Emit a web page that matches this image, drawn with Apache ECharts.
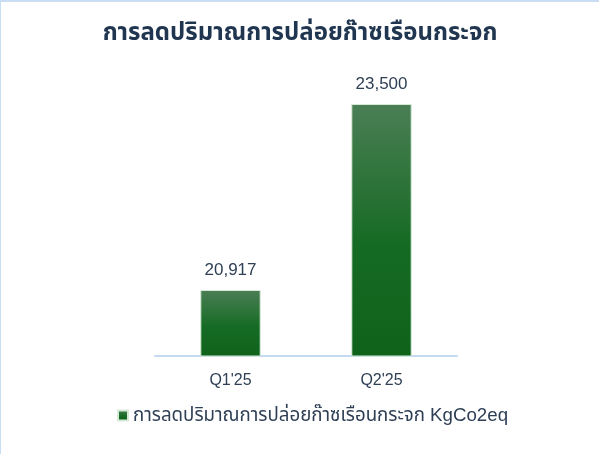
<!DOCTYPE html>
<html>
<head>
<meta charset="utf-8">
<script src="https://cdn.jsdelivr.net/npm/echarts@6/dist/echarts.min.js"></script>
<style>
  html, body { margin: 0; padding: 0; background: #ffffff; }
  #chart {
    width: 599px; height: 454px; box-sizing: border-box;
    border-top: 2px solid #c9def2; border-left: 1px solid #c9def2;
  }
</style>
</head>
<body>
<div id="chart"></div>
<script>
const titleText = 'การลดปริมาณการปล่อยก๊าซเรือนกระจก';
const seriesName = 'การลดปริมาณการปล่อยก๊าซเรือนกระจก KgCo2eq';
const categories = ["Q1'25", "Q2'25"];
const values = [20917, 23500];

const chart = echarts.init(document.getElementById('chart'), null, { renderer: 'canvas' });
const font = '"Liberation Sans", "Noto Sans", "Noto Sans Thai", sans-serif';

chart.setOption({
  animation: false,
  title: {
    text: titleText,
    left: 'center',
    top: 14,
    textStyle: { fontFamily: font, fontSize: 24, fontWeight: 'bold', color: '#1f3550' }
  },
  legend: {
    bottom: 24,
    left: 111,
    itemWidth: 10,
    itemHeight: 10,
    itemGap: 5,
    icon: 'rect',
    textStyle: { fontFamily: font, fontSize: 18.7, color: '#2e3f55' },
    data: [seriesName]
  },
  grid: { left: 154, right: 142, top: 66, bottom: 98 },
  xAxis: {
    type: 'category',
    data: categories,
    axisLine: { lineStyle: { color: '#c3daf0', width: 2 } },
    axisTick: { show: false },
    axisLabel: { fontFamily: font, fontSize: 16, color: '#2e3f55', margin: 17 }
  },
  yAxis: {
    type: 'value',
    min: 20000,
    max: 24000,
    show: false
  },
  series: [{
    name: seriesName,
    type: 'bar',
    data: values,
    barWidth: '40%',
    itemStyle: {
      color: new echarts.graphic.LinearGradient(0, 0, 0, 1, [
        { offset: 0, color: '#4b7e55' },
        { offset: 0.55, color: '#166b24' },
        { offset: 1, color: '#0f621a' }
      ]),
      borderColor: '#d6ead8',
      borderWidth: 1
    },
    label: {
      show: true,
      position: 'top',
      distance: 11,
      fontFamily: font,
      fontSize: 17,
      color: '#2e3f55',
      formatter: p => p.value.toLocaleString('en-US')
    }
  }]
});
</script>
</body>
</html>
